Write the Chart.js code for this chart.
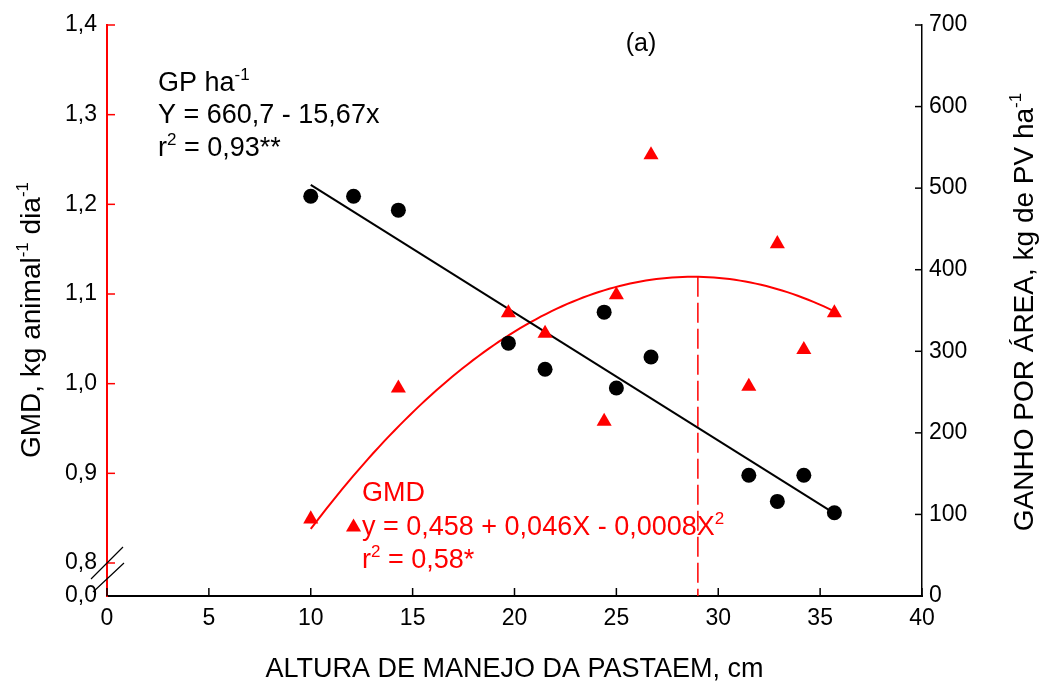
<!DOCTYPE html>
<html>
<head>
<meta charset="utf-8">
<script src="https://cdn.jsdelivr.net/npm/chart.js@4.4.1/dist/chart.umd.min.js"></script>
<style>
  html, body { margin: 0; padding: 0; background: #fff; }
  #wrap { width: 1053px; height: 684px; position: relative; }
</style>
</head>
<body>
<div id="wrap"><canvas id="chart"></canvas></div>
<script>
// grazing height (cm) and the two responses measured at each height
const heights = [10, 12.1, 14.3, 19.7, 21.5, 24.4, 25, 26.7, 31.5, 32.9, 34.2, 35.7];
const gmd = [0.849, 0.840, 0.995, 1.079, 1.056, 0.958, 1.099, 1.255, 0.997, 1.156, 1.038, 1.079];
const gpHa = [490, 490, 473, 310, 278, 348, 255, 293, 148, 116, 148, 102];

// regression coefficients (intercept first)
const gpFit = [660.7, -15.67];
const gmdFit = [0.458, 0.046, -0.0008];
const gmdOptX = 29;

// axis ticks; the left axis is broken below 0,8 and its floor reads 0,0
const xTicks = [0, 5, 10, 15, 20, 25, 30, 35, 40];
const gmdTicks = [0.8, 0.9, 1.0, 1.1, 1.2, 1.3, 1.4];
const gmdFloor = 0.7632;
const gpTicks = [0, 100, 200, 300, 400, 500, 600, 700];

const RED = '#ff0000';
const FONT = '"Liberation Sans", Arial, sans-serif';

const polyAt = (c, x) => c.reduce((s, k, i) => s + k * Math.pow(x, i), 0);

const xMin = heights[0], xMax = heights[heights.length - 1];
const gpLine = [xMin, xMax].map(x => ({ x, y: polyAt(gpFit, x) }));
const gmdCurve = [];
for (let i = 0; i <= 100; i++) {
  const x = xMin + (xMax - xMin) * i / 100;
  gmdCurve.push({ x, y: polyAt(gmdFit, x) });
}
const optLine = [{ x: gmdOptX, y: polyAt(gmdFit, gmdOptX) }, { x: gmdOptX, y: gmdFloor }];

function richWidth(ctx, parts, size) {
  let w = 0;
  parts.forEach(p => {
    ctx.font = (p.sup ? Math.round(size * 0.62) : size) + 'px ' + FONT;
    w += ctx.measureText(p.t).width;
  });
  return w;
}

function drawRich(ctx, parts, x, y, size, color) {
  ctx.fillStyle = color;
  ctx.textBaseline = 'alphabetic';
  ctx.textAlign = 'left';
  let cx = x;
  parts.forEach(p => {
    ctx.font = (p.sup ? Math.round(size * 0.62) : size) + 'px ' + FONT;
    ctx.fillText(p.t, cx, p.sup ? y - size * 0.42 : y);
    cx += ctx.measureText(p.t).width;
  });
}

function drawRotated(ctx, parts, cy, baseX, size) {
  const w = richWidth(ctx, parts, size);
  ctx.save();
  ctx.translate(baseX, cy);
  ctx.rotate(-Math.PI / 2);
  drawRich(ctx, parts, -w / 2, 0, size, '#000');
  ctx.restore();
}

const decor = {
  id: 'decor',
  afterDraw(chart) {
    const ctx = chart.ctx;
    const { x, yL, yR } = chart.scales;
    const area = chart.chartArea;
    ctx.save();

    // inward tick marks
    ctx.lineWidth = 1.5;
    ctx.strokeStyle = '#000';
    x.ticks.forEach(t => {
      const px = x.getPixelForValue(t.value);
      ctx.beginPath(); ctx.moveTo(px, area.bottom); ctx.lineTo(px, area.bottom - 8); ctx.stroke();
    });
    yR.ticks.forEach(t => {
      const py = yR.getPixelForValue(t.value);
      ctx.beginPath(); ctx.moveTo(area.right, py); ctx.lineTo(area.right - 7, py); ctx.stroke();
    });
    ctx.strokeStyle = RED;
    yL.ticks.forEach(t => {
      if (t.value <= gmdFloor) return;
      const py = yL.getPixelForValue(t.value);
      ctx.beginPath(); ctx.moveTo(area.left, py); ctx.lineTo(area.left + 8, py); ctx.stroke();
    });

    // axis break marks
    const bx = area.left, by = yL.getPixelForValue(0.8);
    ctx.strokeStyle = '#000';
    ctx.lineWidth = 1.2;
    ctx.beginPath();
    ctx.moveTo(bx - 16, by + 16); ctx.lineTo(bx + 16, by - 16);
    ctx.moveTo(bx - 14, by + 29); ctx.lineTo(bx + 17, by);
    ctx.stroke();

    // axis titles
    drawRotated(ctx, [{ t: 'GMD, kg animal' }, { t: '-1', sup: true }, { t: ' dia' }, { t: '-1', sup: true }], 320, 40, 28);
    drawRotated(ctx, [{ t: 'GANHO POR ÁREA, kg de PV ha' }, { t: '-1', sup: true }], 312, 1033, 28);
    ctx.font = '27px ' + FONT;
    ctx.fillStyle = '#000';
    ctx.textAlign = 'center';
    ctx.fillText('ALTURA DE MANEJO DA PASTAEM, cm', (area.left + area.right) / 2, 677);

    // panel letter
    ctx.font = '25px ' + FONT;
    ctx.fillText('(a)', 641, 51);

    // regression annotations
    drawRich(ctx, [{ t: 'GP ha' }, { t: '-1', sup: true }], 158, 91, 27, '#000');
    drawRich(ctx, [{ t: 'Y = 660,7 - 15,67x' }], 158, 123, 27, '#000');
    drawRich(ctx, [{ t: 'r' }, { t: '2', sup: true }, { t: ' = 0,93**' }], 158, 156, 27, '#000');

    drawRich(ctx, [{ t: 'GMD' }], 362, 501, 27, RED);
    drawRich(ctx, [{ t: 'y = 0,458 + 0,046X - 0,0008X' }, { t: '2', sup: true }], 362, 535, 27, RED);
    drawRich(ctx, [{ t: 'r' }, { t: '2', sup: true }, { t: ' = 0,58*' }], 362, 568, 27, RED);

    ctx.restore();
  }
};

new Chart(document.getElementById('chart'), {
  type: 'scatter',
  data: {
    datasets: [
      {
        label: 'GP',
        data: heights.map((h, i) => ({ x: h, y: gpHa[i] })),
        yAxisID: 'yR',
        pointStyle: 'circle',
        pointRadius: 7.5,
        backgroundColor: '#000',
        borderColor: '#000',
        borderWidth: 0
      },
      {
        label: 'GMD',
        data: heights.map((h, i) => ({ x: h, y: gmd[i] })),
        yAxisID: 'yL',
        pointStyle: 'triangle',
        pointRadius: 8.7,
        backgroundColor: RED,
        borderColor: RED,
        borderWidth: 0
      },
      {
        label: 'GP fit',
        type: 'line',
        data: gpLine,
        yAxisID: 'yR',
        borderColor: '#000',
        borderWidth: 2,
        pointRadius: 0,
        fill: false
      },
      {
        label: 'GMD fit',
        type: 'line',
        data: gmdCurve,
        yAxisID: 'yL',
        borderColor: RED,
        borderWidth: 2,
        pointRadius: 0,
        tension: 0,
        fill: false
      },
      {
        label: 'GMD optimum',
        type: 'line',
        data: optLine,
        yAxisID: 'yL',
        borderColor: RED,
        borderWidth: 1.5,
        borderDash: [20, 6],
        pointRadius: 0,
        fill: false
      }
    ]
  },
  options: {
    responsive: true,
    maintainAspectRatio: false,
    animation: false,
    layout: { padding: { top: 25, left: 0, right: 0, bottom: 0 } },
    plugins: { legend: { display: false }, tooltip: { enabled: false } },
    scales: {
      x: {
        type: 'linear',
        position: 'bottom',
        min: 0,
        max: 40,
        afterBuildTicks: s => { s.ticks = xTicks.map(v => ({ value: v })); },
        afterFit: s => { s.height = 88; },
        ticks: { color: '#000', font: { family: FONT, size: 23 }, padding: 9, maxRotation: 0 },
        grid: { display: false, drawTicks: false },
        border: { display: true, color: '#000', width: 2 }
      },
      yL: {
        type: 'linear',
        position: 'left',
        min: gmdFloor,
        max: 1.4,
        afterBuildTicks: s => { s.ticks = [gmdFloor].concat(gmdTicks).map(v => ({ value: v })); },
        afterFit: s => { s.width = 107; },
        ticks: {
          color: '#000',
          font: { family: FONT, size: 23 },
          padding: 10,
          callback: v => v <= gmdFloor + 1e-6 ? '0,0' : v.toFixed(1).replace('.', ',')
        },
        grid: { display: false, drawTicks: false },
        border: { display: true, color: RED, width: 2 }
      },
      yR: {
        type: 'linear',
        position: 'right',
        min: 0,
        max: 700,
        afterBuildTicks: s => { s.ticks = gpTicks.map(v => ({ value: v })); },
        afterFit: s => { s.width = 131; },
        ticks: { color: '#000', font: { family: FONT, size: 23 }, padding: 7 },
        grid: { display: false, drawTicks: false },
        border: { display: true, color: '#000', width: 1.5 }
      }
    }
  },
  plugins: [decor]
});
</script>
</body>
</html>
